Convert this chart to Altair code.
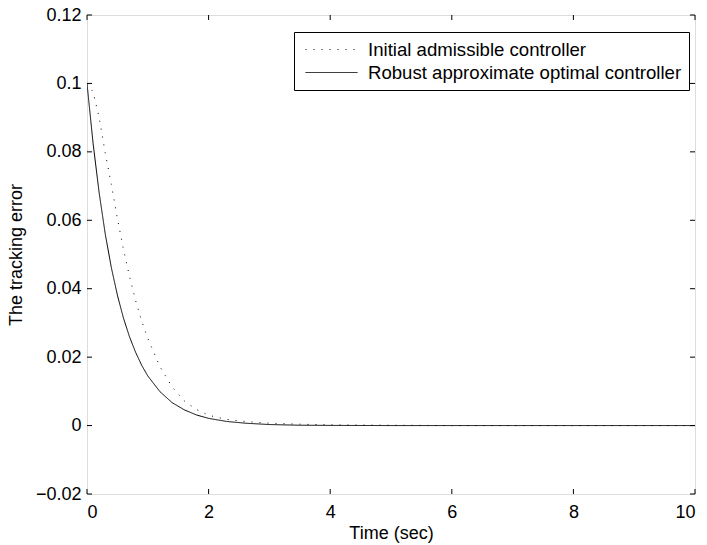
import altair as alt
import pandas as pd

# ---- data ----
t_vals = [0, 0.1, 0.2, 0.3, 0.4, 0.5, 0.6, 0.7, 0.8, 0.9, 1.0, 1.2, 1.4, 1.6, 1.8,
          2.0, 2.3, 2.6, 3.0, 3.5, 4.0, 5.0, 6.0, 7.0, 8.0, 9.0, 10.0]
initial_ctrl = [0.1, 0.0975, 0.090, 0.0797, 0.0705, 0.0605, 0.0515, 0.0435, 0.0365,
                0.0305, 0.0255, 0.0172, 0.0113, 0.0072, 0.0047, 0.0030, 0.0018,
                0.0012, 0.0007, 0.0004, 0.0002, 0.0001, 0.0, 0.0, 0.0, 0.0, 0.0]
robust_ctrl = [0.1, 0.0825, 0.068, 0.056, 0.0462, 0.0381, 0.0314, 0.0259, 0.0214,
               0.0176, 0.0145, 0.0099, 0.0067, 0.0046, 0.0031, 0.0021, 0.0012,
               0.0007, 0.0003, 0.0001, 0.00005, 0.0, 0.0, 0.0, 0.0, 0.0, 0.0]
series_names = ["Initial admissible controller", "Robust approximate optimal controller"]
x_ticks = [0, 2, 4, 6, 8, 10]
y_ticks = [-0.02, 0, 0.02, 0.04, 0.06, 0.08, 0.1, 0.12]

W, H = 608, 479
FONT = "Liberation Sans"
FS = 18

rows = []
for t, a, b in zip(t_vals, initial_ctrl, robust_ctrl):
    rows.append({"t": t, "v": a, "series": series_names[0]})
    rows.append({"t": t, "v": b, "series": series_names[1]})
df = pd.DataFrame(rows)
xt = pd.DataFrame({"x": x_ticks})
yt = pd.DataFrame({"y": y_ticks})

xscale = alt.Scale(domain=[0, 10], nice=False)
yscale = alt.Scale(domain=[-0.02, 0.12], nice=False)

lines = alt.Chart(df).mark_line(color="black", strokeWidth=1, clip=True).encode(
    x=alt.X("t:Q", scale=xscale, title="Time (sec)",
            axis=alt.Axis(values=x_ticks, format="~g", domain=False, ticks=False, grid=False,
                          labelFont=FONT, labelFontSize=FS, labelColor="black",
                          labelPadding=9, titleFont=FONT, titleFontSize=FS,
                          titleFontWeight="normal", titleColor="black",
                          titleBaseline="top", titleY=30)),
    y=alt.Y("v:Q", scale=yscale, title="The tracking error",
            axis=alt.Axis(values=y_ticks, format="~g", domain=False, ticks=False, grid=False,
                          labelFont=FONT, labelFontSize=FS, labelColor="black",
                          labelPadding=6, titleFont=FONT, titleFontSize=FS,
                          titleFontWeight="normal", titleColor="black",
                          titleBaseline="top", titleX=-80)),
    strokeDash=alt.StrokeDash("series:N",
                              scale=alt.Scale(domain=series_names, range=[[1, 7], [1, 0]]),
                              legend=alt.Legend(title=None, orient="none", legendX=207,
                                                legendY=17, symbolType="stroke",
                                                symbolSize=2704, symbolStrokeColor="black",
                                                symbolStrokeWidth=1, symbolOffset=4,
                                                clipHeight=21, labelFont=FONT,
                                                labelFontSize=18.6, labelColor="black",
                                                labelLimit=0, labelOffset=10, padding=7,
                                                rowPadding=2, strokeColor="black",
                                                fillColor="white", cornerRadius=0)),
    order="t:Q",
)

tick_len = 5
bottom_ticks = alt.Chart(xt).mark_rule(color="black", strokeWidth=1).encode(
    x=alt.X("x:Q", scale=xscale), y=alt.value(H), y2=alt.value(H - tick_len))
top_ticks = alt.Chart(xt).mark_rule(color="black", strokeWidth=1).encode(
    x=alt.X("x:Q", scale=xscale), y=alt.value(0), y2=alt.value(tick_len))
left_ticks = alt.Chart(yt).mark_rule(color="black", strokeWidth=1).encode(
    y=alt.Y("y:Q", scale=yscale), x=alt.value(0), x2=alt.value(tick_len))
right_ticks = alt.Chart(yt).mark_rule(color="black", strokeWidth=1).encode(
    y=alt.Y("y:Q", scale=yscale), x=alt.value(W), x2=alt.value(W - tick_len))

chart = alt.layer(bottom_ticks, top_ticks, left_ticks, right_ticks, lines).properties(
    width=W, height=H,
    padding={"left": 87, "top": 15, "right": 12, "bottom": 51},
    autosize=alt.AutoSizeParams(type="none"),
).configure_view(stroke="black", strokeWidth=1).configure(background="white")

chart.save("out.html", embed_options={"renderer": "svg", "actions": False})
